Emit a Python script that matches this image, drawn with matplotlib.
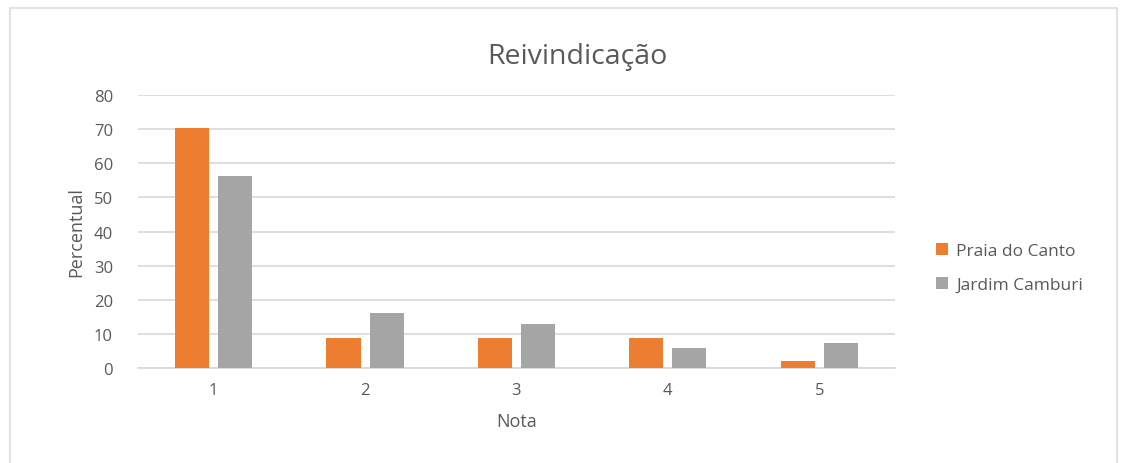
import numpy as np
import matplotlib.pyplot as plt
from matplotlib.patches import Rectangle

plt.rcParams['font.family'] = ['Open Sans', 'DejaVu Sans']

notas = ['1', '2', '3', '4', '5']
praia_do_canto = [70.2, 8.8, 8.8, 8.8, 2.0]
jardim_camburi = [56.4, 16.1, 12.8, 5.9, 7.3]
series_names = ['Praia do Canto', 'Jardim Camburi']

orange = '#ED7D31'
gray = '#A5A5A5'
text_color = '#595959'

fig = plt.figure(figsize=(11.29, 4.64), dpi=100)
fig.patches.append(Rectangle((0.009, -0.01), 0.98, 0.99, transform=fig.transFigure,
                             fill=False, edgecolor='#E2E2E2', linewidth=1.5))
ax = fig.add_axes([0.1222, 0.2047, 0.6705, 0.5884])

x = np.arange(len(notas))
width = 0.225
gap = 0.03
ax.bar(x - width / 2 - gap, praia_do_canto, width, color=orange, label=series_names[0], zorder=3)
ax.bar(x + width / 2 + gap, jardim_camburi, width, color=gray, label=series_names[1], zorder=3)

ax.set_xlim(-0.5, len(notas) - 0.5)
ax.set_ylim(0, 80)
ax.set_yticks(range(0, 81, 10))
ax.set_xticks(x)
ax.set_xticklabels(notas)
ax.yaxis.grid(True, color='#D9D9D9', linewidth=1.2, zorder=0)
ax.tick_params(axis='both', length=0, labelsize=12, colors=text_color, pad=10)
ax.tick_params(axis='y', pad=18)
for side in ['top', 'right', 'left']:
    ax.spines[side].set_visible(False)
ax.spines['bottom'].set_color('#D9D9D9')
ax.spines['bottom'].set_linewidth(1.2)

ax.set_xlabel('Nota', fontsize=13, color=text_color, labelpad=10)
ax.set_ylabel('Percentual', fontsize=13, color=text_color, labelpad=6)
fig.text(0.511, 0.877, 'Reivindicação', fontsize=20.5, color=text_color,
         ha='center', va='center')

leg = ax.legend(loc='center left', bbox_to_anchor=(1.033, 0.367), frameon=False,
                fontsize=12.5, handlelength=0.7, handleheight=0.7, handletextpad=0.5,
                labelspacing=1.0, labelcolor=text_color)

fig.savefig('out.png', dpi=100, facecolor='white')
